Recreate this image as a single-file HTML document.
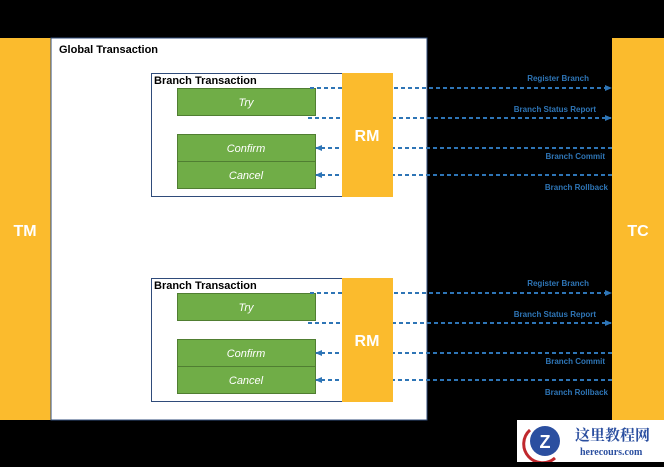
<!DOCTYPE html>
<html><head><meta charset="utf-8"><style>
body{margin:0;width:664px;height:462px;background:#000;overflow:hidden;font-family:"Liberation Sans",sans-serif}
</style></head><body>
<svg width="664" height="462" xmlns="http://www.w3.org/2000/svg" font-family="Liberation Sans, sans-serif">
<defs><marker id="a" markerUnits="userSpaceOnUse" markerWidth="7" markerHeight="7" refX="6" refY="3.5" orient="auto"><path d="M0,0.5 L7,3.5 L0,6.5z" fill="#2e75b6"/></marker></defs>
<rect x="0" y="38" width="51" height="382" fill="#fbbb2d"/>
<text x="25" y="236" fill="#fff" font-size="16" font-weight="bold" text-anchor="middle">TM</text>
<rect x="51" y="38" width="376" height="382" fill="#fff" stroke="#2f4b7a" stroke-width="1"/>
<text x="59" y="53" font-size="11" font-weight="bold" fill="#000">Global Transaction</text>
<rect x="612" y="38" width="52" height="382" fill="#fbbb2d"/>
<text x="638" y="236" fill="#fff" font-size="16" font-weight="bold" text-anchor="middle">TC</text>
<g id="b">
<rect x="151.5" y="73.5" width="191" height="123" fill="#fff" stroke="#2f4b7a"/>
<text x="154" y="84" font-size="11" font-weight="bold" fill="#000">Branch Transaction</text>
<rect x="177.5" y="88.5" width="138" height="27" fill="#70ad47" stroke="#507e32"/>
<text x="246" y="106" font-size="11" font-style="italic" fill="#fff" text-anchor="middle">Try</text>
<rect x="177.5" y="134.5" width="138" height="27" fill="#70ad47" stroke="#507e32"/>
<text x="246" y="152" font-size="11" font-style="italic" fill="#fff" text-anchor="middle">Confirm</text>
<rect x="177.5" y="161.5" width="138" height="27" fill="#70ad47" stroke="#507e32"/>
<text x="246" y="179" font-size="11" font-style="italic" fill="#fff" text-anchor="middle">Cancel</text>
<g stroke="#2e75b6" stroke-width="2" stroke-dasharray="4,3" fill="none">
<line x1="310" y1="88" x2="611" y2="88" marker-end="url(#a)"/>
<line x1="308" y1="118" x2="611" y2="118" marker-end="url(#a)"/>
<line x1="612" y1="148" x2="316" y2="148" marker-end="url(#a)"/>
<line x1="612" y1="175" x2="316" y2="175" marker-end="url(#a)"/>
</g>
<rect x="342" y="73" width="51" height="124" fill="#fbbb2d"/>
<text x="367" y="141" fill="#fff" font-size="16" font-weight="bold" text-anchor="middle">RM</text>
<g font-size="8" font-weight="bold" fill="#2e75b6" text-anchor="end">
<text x="589" y="81">Register Branch</text>
<text x="596" y="112">Branch Status Report</text>
<text x="605" y="159">Branch Commit</text>
<text x="608" y="190">Branch Rollback</text>
</g>
</g>
<use href="#b" y="205"/>
<rect x="517" y="420" width="147" height="42" fill="#fff"/>
<circle cx="545" cy="441" r="15" fill="#2b4fa0"/>
<path d="M530,430 A18,18 0 0 0 555,458" stroke="#c0282d" stroke-width="3" fill="none"/>
<text x="545" y="448" fill="#fff" font-size="18" font-weight="bold" text-anchor="middle">Z</text>
<text x="575" y="440" fill="#2b4fa0" font-size="15" font-weight="bold" font-family="Noto Serif CJK SC, serif">这里教程网</text>
<text x="580" y="455" fill="#2b4fa0" font-size="10" font-weight="bold" font-family="Liberation Serif, serif">herecours.com</text>
</svg>
</body></html>
